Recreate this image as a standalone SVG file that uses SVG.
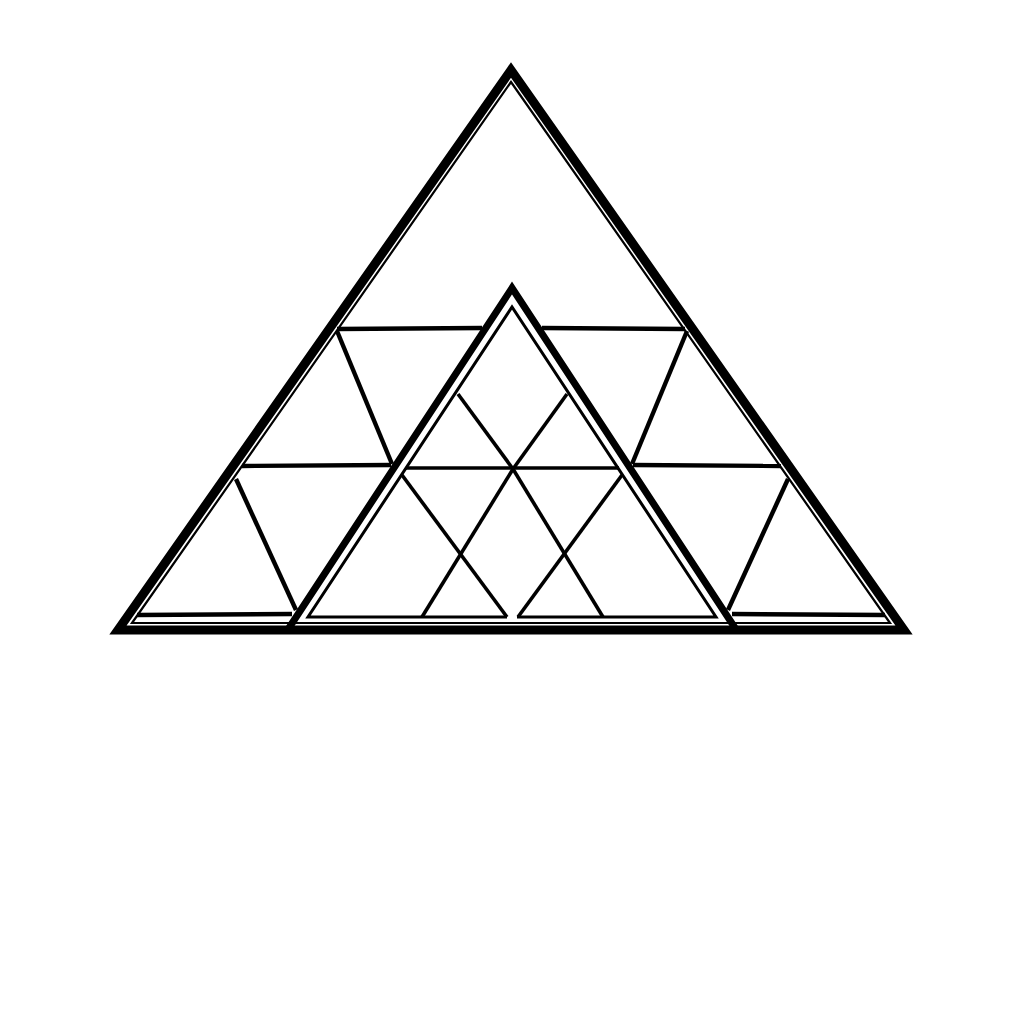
<svg xmlns="http://www.w3.org/2000/svg" width="1024" height="1024" viewBox="0 0 1024 1024">
  <style>
    .thick { fill: none; stroke: #000; stroke-width: 9; stroke-linejoin: miter; stroke-miterlimit: 10; }
    .mid { fill: none; stroke: #000; stroke-width: 7; stroke-linejoin: miter; stroke-miterlimit: 10; }
    .thin { fill: none; stroke: #000; stroke-width: 2.2; stroke-linejoin: miter; stroke-miterlimit: 10; }
    .inner { fill: none; stroke: #000; stroke-width: 3; stroke-linejoin: miter; stroke-miterlimit: 10; }
    .grid { fill: none; stroke: #000; stroke-width: 4.4; stroke-linecap: butt; }
    .fine { fill: none; stroke: #000; stroke-width: 3.6; stroke-linecap: butt; }
  </style>
  <rect width="1024" height="1024" fill="#fff"/>

  <g id="outer-pyramid">
    <polygon class="thick" points="511,70 118,630 904,630"/>
    <polygon class="thin" points="511,82 132,623 890,623"/>
  </g>

  <g id="side-grid">
    <!-- left strip -->
    <line class="grid" x1="337" y1="329" x2="482" y2="328"/>
    <line class="grid" x1="242" y1="466" x2="391" y2="465"/>
    <line class="grid" x1="137" y1="615" x2="292" y2="614"/>
    <line class="grid" x1="337" y1="331" x2="392" y2="464"/>
    <line class="grid" x1="236" y1="479" x2="296" y2="610"/>
    <!-- right strip -->
    <line class="grid" x1="542" y1="328" x2="685" y2="329"/>
    <line class="grid" x1="633" y1="465" x2="781" y2="466"/>
    <line class="grid" x1="732" y1="614" x2="885" y2="615"/>
    <line class="grid" x1="687" y1="331" x2="632" y2="464"/>
    <line class="grid" x1="788" y1="479" x2="728" y2="610"/>
  </g>

  <g id="inner-pyramid">
    <polyline class="mid" points="287,631 512,288 737,631"/>
    <polyline class="inner" points="507,617 308,617 512,307 716,617 517,617"/>
  </g>

  <g id="inner-grid">
    <line class="fine" x1="406" y1="468" x2="619" y2="468"/>
    <line class="fine" x1="458" y1="394" x2="513" y2="469"/>
    <line class="fine" x1="567" y1="394" x2="513" y2="469"/>
    <line class="fine" x1="402" y1="475" x2="507" y2="617"/>
    <line class="fine" x1="513" y1="469" x2="422" y2="617"/>
    <line class="fine" x1="513" y1="469" x2="603" y2="617"/>
    <line class="fine" x1="622" y1="475" x2="518" y2="617"/>
  </g>
</svg>
